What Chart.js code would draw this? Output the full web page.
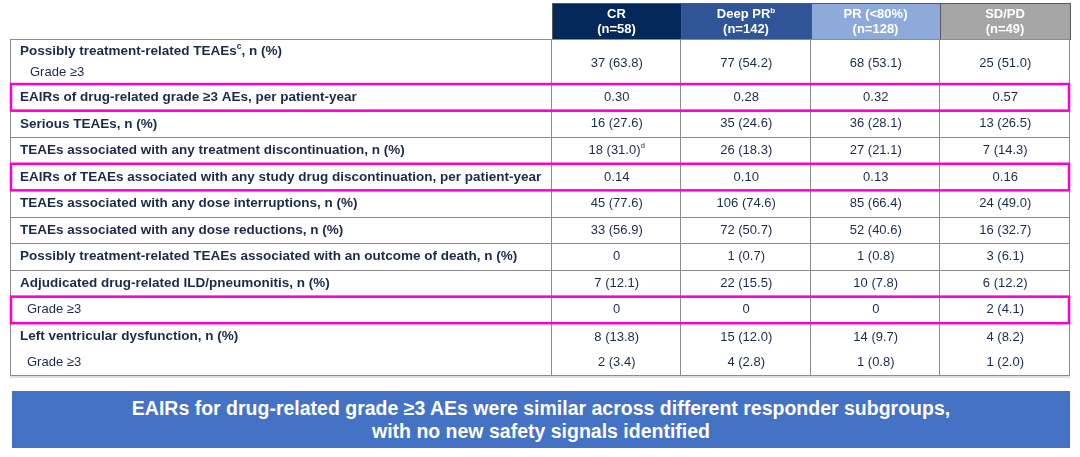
<!DOCTYPE html>
<html>
<head>
<meta charset="utf-8">
<title>TEAEs by responder subgroup</title>
<script src="https://cdn.jsdelivr.net/npm/chart.js@4.4.1/dist/chart.umd.min.js"></script>
<style>
  html, body { margin: 0; padding: 0; background: #fff; }
  #wrap { position: relative; width: 1080px; height: 457px; overflow: hidden; }
  #tabela { position: absolute; left: 0; top: 0; }
  #banner {
    position: absolute; left: 12px; top: 391px; width: 1058px; height: 57px;
    background: #4472c4; color: #fff;
    font: bold 19.5px "Liberation Sans", Arial, sans-serif;
    line-height: 23px; text-align: center;
    display: flex; flex-direction: column; justify-content: center;
  }
</style>
</head>
<body>
<div id="wrap">
  <canvas id="tabela" width="1080" height="457"></canvas>
  <div id="banner">
    <div>EAIRs for drug-related grade ≥3 AEs were similar across different responder subgroups,</div>
    <div>with no new safety signals identified</div>
  </div>
</div>
<script>
// column headers ("^x" = superscript)
var grupos = ['CR', 'Deep PR^b', 'PR (<80%)', 'SD/PD'];
var grupoN = ['(n=58)', '(n=142)', '(n=128)', '(n=49)'];
var coresGrupo = ['#05285a', '#2f5597', '#8eaadb', '#a5a5a5'];

var rotulos = [
    'Possibly treatment-related TEAEs^c, n (%)',
    'EAIRs of drug-related grade ≥3 AEs, per patient-year',
    'Serious TEAEs, n (%)',
    'TEAEs associated with any treatment discontinuation, n (%)',
    'EAIRs of TEAEs associated with any study drug discontinuation, per patient-year',
    'TEAEs associated with any dose interruptions, n (%)',
    'TEAEs associated with any dose reductions, n (%)',
    'Possibly treatment-related TEAEs associated with an outcome of death, n (%)',
    'Adjudicated drug-related ILD/pneumonitis, n (%)',
    'Grade ≥3',
    'Left ventricular dysfunction, n (%)'
];
// second line inside a row
var subRotulos = ['Grade ≥3', '', '', '', '', '', '', '', '', '', 'Grade ≥3'];
var linhasRecuadas = [9];          // plain, indented label
var linhasDestaque = [1, 4, 9];    // pink boxes

// one entry per row, the 12th is the "Grade ≥3" line of left ventricular dysfunction
var valoresCR     = ['37 (63.8)', '0.30', '16 (27.6)', '18 (31.0)^d', '0.14', '45 (77.6)', '33 (56.9)', '0', '7 (12.1)', '0', '8 (13.8)', '2 (3.4)'];
var valoresDeepPR = ['77 (54.2)', '0.28', '35 (24.6)', '26 (18.3)', '0.10', '106 (74.6)', '72 (50.7)', '1 (0.7)', '22 (15.5)', '0', '15 (12.0)', '4 (2.8)'];
var valoresPR     = ['68 (53.1)', '0.32', '36 (28.1)', '27 (21.1)', '0.13', '85 (66.4)', '52 (40.6)', '1 (0.8)', '10 (7.8)', '0', '14 (9.7)', '1 (0.8)'];
var valoresSDPD   = ['25 (51.0)', '0.57', '13 (26.5)', '7 (14.3)', '0.16', '24 (49.0)', '16 (32.7)', '3 (6.1)', '6 (12.2)', '2 (4.1)', '4 (8.2)', '1 (2.0)'];
var colunas = [valoresCR, valoresDeepPR, valoresPR, valoresSDPD];

// layout (row heights in row units, label column width in data-column units)
var alturaLinhas = [1.7, 1, 1, 1, 1, 1, 1, 1, 1, 1, 1.95];
var alturaCabecalho = 1.35;
var larguraRotulos = 4.185;

var FONTE = '"Liberation Sans", Arial, sans-serif';
var COR_TEXTO = '#1c2a4a';

function inicioLinha(i) {
    var s = 0;
    for (var k = 0; k < i; k++) s += alturaLinhas[k];
    return s;
}

function textoRico(ctx, texto, px, py, alinhar, tam, peso, cor) {
    var partes = texto.split('^');
    var segs = [{ t: partes[0], sup: false }];
    for (var i = 1; i < partes.length; i++) {
        segs.push({ t: partes[i][0], sup: true });
        if (partes[i].length > 1) segs.push({ t: partes[i].slice(1), sup: false });
    }
    var fonte = function (sup) { return peso + ' ' + (sup ? tam * 0.62 : tam) + 'px ' + FONTE; };
    var total = 0;
    segs.forEach(function (s) { ctx.font = fonte(s.sup); s.w = ctx.measureText(s.t).width; total += s.w; });
    var cx = alinhar === 'center' ? px - total / 2 : px;
    ctx.fillStyle = cor;
    ctx.textAlign = 'left';
    ctx.textBaseline = 'middle';
    segs.forEach(function (s) {
        ctx.font = fonte(s.sup);
        ctx.fillText(s.t, cx, s.sup ? py - tam * 0.33 : py);
        cx += s.w;
    });
}

var pluginTabela = {
    id: 'pluginTabela',
    afterDraw: function (chart) {
        var ctx = chart.ctx;
        var x = chart.scales.x, y = chart.scales.y;
        var esq = x.getPixelForValue(x.min), dir = x.getPixelForValue(x.max);
        var fim = inicioLinha(alturaLinhas.length);
        ctx.save();

        // header cells
        grupos.forEach(function (g, c) {
            var x0 = Math.round(x.getPixelForValue(c)), x1 = Math.round(x.getPixelForValue(c + 1));
            var y0 = Math.round(y.getPixelForValue(-alturaCabecalho)), y1 = Math.round(y.getPixelForValue(0));
            ctx.fillStyle = coresGrupo[c];
            ctx.fillRect(x0, y0, x1 - x0, y1 - y0);
            ctx.strokeStyle = '#595959';
            ctx.lineWidth = 1;
            ctx.strokeRect(x0 + 0.5, y0 + 0.5, x1 - x0, y1 - y0);
            var cx = (x0 + x1) / 2;
            textoRico(ctx, g, cx, y.getPixelForValue(-alturaCabecalho + 0.44), 'center', 13, 'bold', '#fff');
            textoRico(ctx, grupoN[c], cx, y.getPixelForValue(-alturaCabecalho + 0.99), 'center', 13, 'bold', '#fff');
        });

        // grid
        ctx.strokeStyle = '#8c8c8c';
        ctx.lineWidth = 1;
        for (var i = 0; i <= alturaLinhas.length; i++) {
            var py = Math.round(y.getPixelForValue(inicioLinha(i))) + 0.5;
            ctx.beginPath(); ctx.moveTo(esq, py); ctx.lineTo(dir, py); ctx.stroke();
        }
        var yTopo = y.getPixelForValue(0), yFim = y.getPixelForValue(fim);
        [x.min, 0, 1, 2, 3, 4].forEach(function (v) {
            var px = Math.round(x.getPixelForValue(v)) + (v === x.min ? 0.5 : -0.5);
            ctx.beginPath(); ctx.moveTo(px, yTopo); ctx.lineTo(px, yFim); ctx.stroke();
        });
        ctx.strokeStyle = '#d6d6d6';
        ctx.lineWidth = 1.5;
        ctx.beginPath(); ctx.moveTo(esq, Math.round(yFim) + 2); ctx.lineTo(dir, Math.round(yFim) + 2); ctx.stroke();

        // labels
        rotulos.forEach(function (r, i) {
            var top = inicioLinha(i), h = alturaLinhas[i];
            var recuo = linhasRecuadas.indexOf(i) >= 0;
            var yl = subRotulos[i] ? y.getPixelForValue(top + (i === 0 ? 0.48 : 0.5)) : y.getPixelForValue(top + h / 2);
            textoRico(ctx, r, esq + (recuo ? 17 : 10), yl, 'left', recuo ? 13 : 13.5, recuo ? 'normal' : 'bold', COR_TEXTO);
            if (subRotulos[i]) {
                var ys = y.getPixelForValue(top + (i === 0 ? 1.25 : 1.46));
                textoRico(ctx, subRotulos[i], esq + (i === 0 ? 20 : 17), ys, 'left', 13, 'normal', COR_TEXTO);
            }
        });

        // values
        colunas.forEach(function (vals, c) {
            var cx = x.getPixelForValue(c + 0.5);
            vals.forEach(function (v, i) {
                var u;
                if (i === 0) u = 0.92;
                else if (i === 10) u = inicioLinha(10) + 0.52;
                else if (i === 11) u = inicioLinha(10) + 1.48;
                else u = inicioLinha(i) + alturaLinhas[i] / 2;
                textoRico(ctx, v, cx, y.getPixelForValue(u), 'center', 13, 'normal', COR_TEXTO);
            });
        });

        // highlighted rows
        ctx.strokeStyle = '#ff00cc';
        ctx.lineWidth = 2.5;
        linhasDestaque.forEach(function (i) {
            var y0 = y.getPixelForValue(inicioLinha(i)), y1 = y.getPixelForValue(inicioLinha(i) + alturaLinhas[i]);
            ctx.strokeRect(esq + 1, y0, dir - esq - 2, y1 - y0);
        });

        ctx.restore();
    }
};

new Chart(document.getElementById('tabela').getContext('2d'), {
    type: 'scatter',
    data: { datasets: [] },
    options: {
        responsive: false,
        animation: false,
        events: [],
        layout: { padding: { top: 3, bottom: 82, left: 10, right: 10 } },
        plugins: { legend: { display: false }, tooltip: { enabled: false } },
        scales: {
            x: { type: 'linear', display: false, min: -larguraRotulos, max: 4 },
            y: { type: 'linear', display: false, reverse: true, min: -alturaCabecalho, max: inicioLinha(alturaLinhas.length) }
        }
    },
    plugins: [pluginTabela]
});
</script>
</body>
</html>
